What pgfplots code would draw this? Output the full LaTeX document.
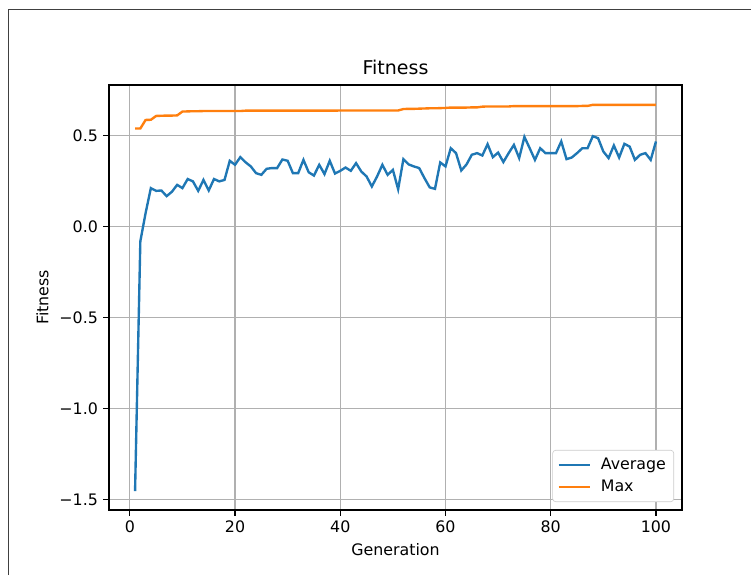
\documentclass[border=0pt]{standalone}
\usepackage{fontspec}
\setmainfont{DejaVu Sans}
\usepackage{pgfplots}
\pgfplotsset{compat=1.18}
\definecolor{tabblue}{HTML}{1F77B4}
\definecolor{taborange}{HTML}{FF7F0E}
\definecolor{gridgray}{HTML}{B0B0B0}
\definecolor{legframe}{HTML}{CCCCCC}
\begin{document}
\begin{tikzpicture}
\path[use as bounding box] (0,0) rectangle (474.6pt,363.4pt);
\draw[line width=0.6pt, color=black!75] (5.1pt,0pt) -- (5.1pt,357.7pt) -- (474.6pt,357.7pt);
\begin{axis}[
  at={(68.9pt,41.1pt)}, anchor=south west,
  scale only axis, width=362.1pt, height=268.6pt,
  xmin=-3.95, xmax=104.95, ymin=-1.556, ymax=0.776,
  xtick={0,20,40,60,80,100},
  ytick={-1.5,-1,-0.5,0,0.5},
  yticklabels={−1.5,−1.0,−0.5,0.0,0.5},
  xtick pos=bottom, ytick pos=left,
  tick align=outside, major tick length=3.5pt,
  every tick/.style={black, line width=0.8pt},
  axis line style={line width=0.8pt},
  grid=major, major grid style={gridgray, line width=0.8pt},
  ticklabel style={font=\fontsize{10}{12}\selectfont},
  /pgf/number format/assume math mode=true,
  title={Fitness},
  title style={font=\fontsize{12}{14}\selectfont, yshift=-3pt},
  xlabel={Generation}, ylabel={Fitness},
  label style={font=\fontsize{10}{12}\selectfont},
  legend cell align=left,
  legend style={at={(1,0)}, anchor=south east, xshift=-5pt, yshift=5pt,
    draw=legframe, rounded corners=2pt, font=\fontsize{10}{12}\selectfont,
    row sep=1pt, inner sep=3pt},
  legend image code/.code={\draw[#1] (0pt,0pt) -- (20pt,0pt);},
]
\addplot[tabblue, line width=1.5pt] coordinates {
(1,-1.452) (2,-0.082) (3,0.073) (4,0.210) (5,0.195) (6,0.197) (7,0.166) (8,0.190) (9,0.228) (10,0.210)
(11,0.260) (12,0.247) (13,0.195) (14,0.255) (15,0.197) (16,0.260) (17,0.247) (18,0.255) (19,0.360) (20,0.338)
(21,0.380) (22,0.352) (23,0.329) (24,0.292) (25,0.283) (26,0.316) (27,0.320) (28,0.320) (29,0.367) (30,0.360)
(31,0.292) (32,0.292) (33,0.365) (34,0.297) (35,0.279) (36,0.338) (37,0.287) (38,0.360) (39,0.290) (40,0.305)
(41,0.323) (42,0.305) (43,0.347) (44,0.301) (45,0.274) (46,0.219) (47,0.274) (48,0.338) (49,0.283) (50,0.310)
(51,0.204) (52,0.369) (53,0.340) (54,0.329) (55,0.320) (56,0.265) (57,0.214) (58,0.206) (59,0.351) (60,0.329)
(61,0.429) (62,0.402) (63,0.307) (64,0.340) (65,0.393) (66,0.402) (67,0.389) (68,0.451) (69,0.380) (70,0.405)
(71,0.353) (72,0.402) (73,0.447) (74,0.375) (75,0.491) (76,0.429) (77,0.365) (78,0.429) (79,0.402) (80,0.402)
(81,0.402) (82,0.466) (83,0.369) (84,0.378) (85,0.402) (86,0.429) (87,0.429) (88,0.495) (89,0.484) (90,0.411)
(91,0.375) (92,0.444) (93,0.378) (94,0.453) (95,0.438) (96,0.365) (97,0.393) (98,0.402) (99,0.365) (100,0.466)
};
\addlegendentry{\hspace{4pt}Average}
\addplot[taborange, line width=1.5pt] coordinates {
(1,0.537) (2,0.537) (3,0.584) (4,0.585) (5,0.606) (6,0.607) (7,0.608) (8,0.608) (9,0.609) (10,0.630)
(11,0.631) (12,0.632) (13,0.632) (14,0.633) (15,0.633) (16,0.633) (17,0.633) (18,0.633) (19,0.633) (20,0.633)
(21,0.633) (22,0.635) (23,0.635) (24,0.635) (25,0.635) (26,0.635) (27,0.635) (28,0.635) (29,0.635) (30,0.635)
(31,0.635) (32,0.635) (33,0.635) (34,0.635) (35,0.635) (36,0.635) (37,0.635) (38,0.635) (39,0.635) (40,0.636)
(41,0.636) (42,0.636) (43,0.636) (44,0.636) (45,0.636) (46,0.636) (47,0.636) (48,0.636) (49,0.636) (50,0.636)
(51,0.636) (52,0.644) (53,0.645) (54,0.645) (55,0.646) (56,0.647) (57,0.648) (58,0.648) (59,0.649) (60,0.650)
(61,0.652) (62,0.652) (63,0.652) (64,0.652) (65,0.653) (66,0.653) (67,0.657) (68,0.658) (69,0.658) (70,0.658)
(71,0.658) (72,0.658) (73,0.660) (74,0.660) (75,0.660) (76,0.660) (77,0.660) (78,0.660) (79,0.660) (80,0.660)
(81,0.660) (82,0.660) (83,0.660) (84,0.660) (85,0.660) (86,0.661) (87,0.661) (88,0.667) (89,0.667) (90,0.667)
(91,0.667) (92,0.667) (93,0.667) (94,0.667) (95,0.667) (96,0.667) (97,0.667) (98,0.667) (99,0.667) (100,0.667)
};
\addlegendentry{\hspace{4pt}Max}
\end{axis}
\end{tikzpicture}
\end{document}
